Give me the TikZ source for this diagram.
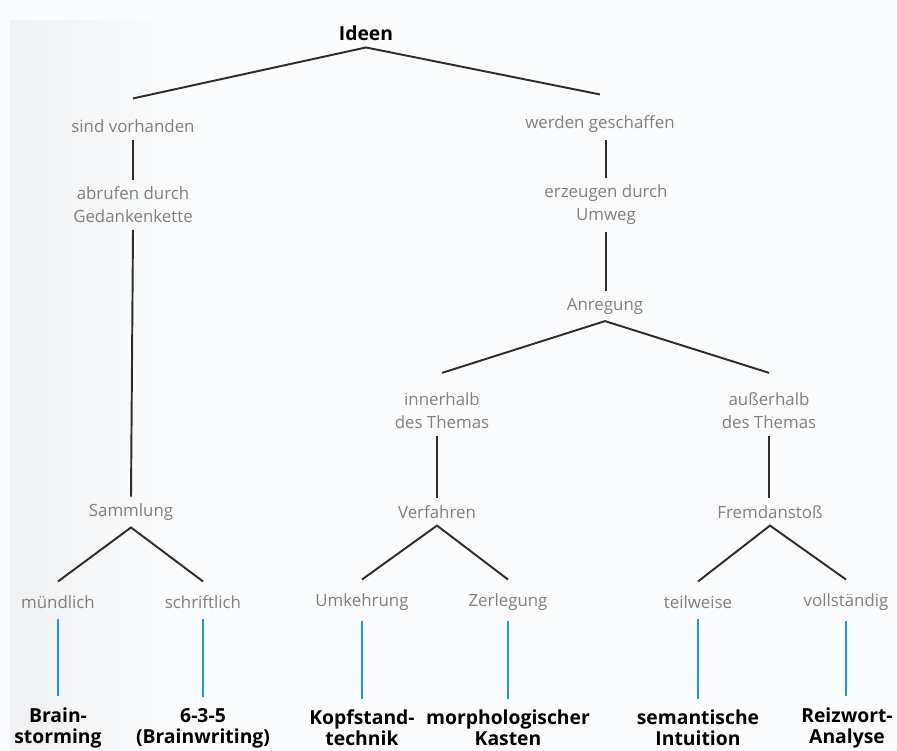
\documentclass[tikz,border=0pt]{standalone}
\usepackage{fontspec}
\setmainfont{Open Sans}
\usetikzlibrary{positioning}
\definecolor{labelgrey}{RGB}{128,128,128}
\definecolor{linegrey}{RGB}{45,45,45}
\definecolor{leafblue}{RGB}{30,150,220}
\definecolor{paper}{RGB}{250,252,253}
\definecolor{scanshade}{RGB}{239,241,242}
\tikzset{
	cat/.style={text=labelgrey, font=\fontsize{9.6}{13}\selectfont, align=center, inner sep=0pt, outer sep=4pt},
	method/.style={text=black, font=\bfseries\fontsize{11}{12}\selectfont, align=center, inner sep=0pt, outer sep=4pt},
	branch/.style={draw=linegrey, line width=1.1pt},
	leaf/.style={draw=leafblue, line width=1.4pt, shorten <=2pt, shorten >=2.5pt},
}

\begin{document}
\begin{tikzpicture}[x=0.02cm, y=-0.02cm]
	\fill[paper] (0,0) rectangle (897,751);
	\shade[left color=scanshade, right color=paper] (10,20) rectangle (170,751);
	\useasboundingbox (0,0) rectangle (897,751);
	\node[method] (ideen) at (366,33) {Ideen};
	% sind vorhanden
	\node[cat] (vorh) at (133,126) {sind vorhanden};
	\node[cat] (abruf) at (133,205) {abrufen durch\\Gedankenkette};
	\node[cat] (samml) at (131,512) {Sammlung};
	\node[cat] (muend) at (58,602) {mündlich};
	\node[cat] (schrift) at (203,602) {schriftlich};
	\node[method] (brain) at (58,728) {Brain-\\storming};
	\node[method] (bwrite) at (203,728) {6-3-5\\(Brainwriting)};
	% werden geschaffen
	\node[cat] (gesch) at (600,124) {werden geschaffen};
	\node[cat] (umweg) at (606,205) {erzeugen durch\\Umweg};
	\node[cat] (anreg) at (605,306) {Anregung};
	\node[cat] (innen) at (442,411) {innerhalb\\des Themas};
	\node[cat] (aussen) at (769,411) {außerhalb\\des Themas};
	\node[cat] (verf) at (437,512) {Verfahren};
	\node[cat] (fremd) at (770,512) {Fremdanstoß};
	\node[cat] (umkehr) at (362,602) {Umkehrung};
	\node[cat] (zerleg) at (508,602) {Zerlegung};
	\node[cat] (teilw) at (698,602) {teilweise};
	\node[cat] (vollst) at (846,602) {vollständig};
	\node[method] (kopf) at (362,728) {Kopfstand-\\technik};
	\node[method] (morph) at (508,728) {morphologischer\\Kasten};
	\node[method] (sem) at (698,728) {semantische\\Intuition};
	\node[method] (reiz) at (847,728) {Reizwort-\\Analyse};

	\draw[branch] ([yshift=8pt]vorh.north) -- (ideen.south) -- ([yshift=8pt]gesch.north);
	\draw[branch] (vorh.south) -- (abruf.north);
	\draw[branch] (abruf.south) -- (samml.north);
	\draw[branch] ([yshift=4pt]muend.north) -- (samml.south) -- ([yshift=4pt]schrift.north);
	\draw[branch] (gesch.south -| umweg) -- (umweg.north);
	\draw[branch] (umweg.south) -- (anreg.north -| umweg);
	\draw[branch] ([yshift=7.5pt]innen.north) -- (anreg.south) -- ([yshift=7.5pt]aussen.north);
	\draw[branch] (innen.south -| verf) -- (verf.north);
	\draw[branch] (aussen.south) -- (fremd.north -| aussen);
	\draw[branch] ([yshift=4pt]umkehr.north) -- (verf.south) -- ([yshift=4pt]zerleg.north);
	\draw[branch] ([yshift=4pt]teilw.north) -- (fremd.south) -- ([yshift=4pt]vollst.north);
	\foreach \top/\bot in {muend/brain, schrift/bwrite, umkehr/kopf, zerleg/morph, teilw/sem, vollst/reiz}
		\draw[leaf] (\top.south) -- (\top.south |- \bot.north);
\end{tikzpicture}
\end{document}
